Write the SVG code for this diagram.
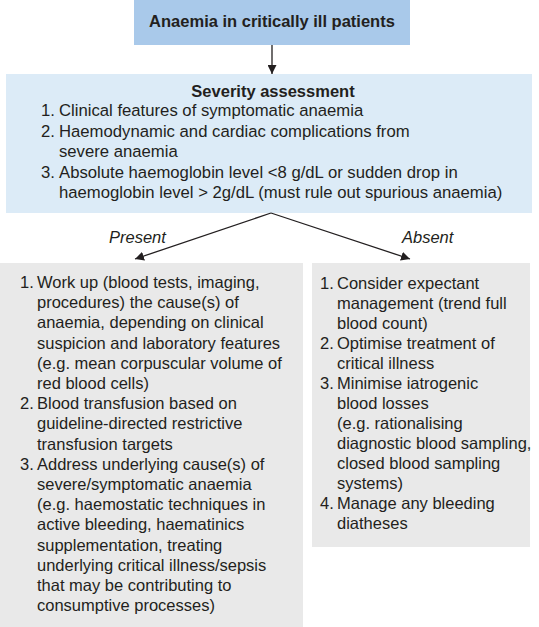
<svg xmlns="http://www.w3.org/2000/svg" width="539" height="627" viewBox="0 0 539 627">
<defs>
<style>
text{font-family:"Liberation Sans",Arial,sans-serif;fill:#231f20;font-size:16.5px}
.s{font-size:16.7px}
.b{font-weight:bold}
.i{font-style:italic}
.c{stroke:#231f20;stroke-width:1.3;fill:none}
</style>
<marker id="ah" viewBox="0 0 10 10" refX="10" refY="5" markerWidth="9" markerHeight="9" markerUnits="userSpaceOnUse" orient="auto"><path d="M0,0L10,5L0,10z" fill="#231f20"/></marker>
</defs>
<rect width="539" height="627" fill="#fff"/>
<g id="n1">
<rect x="134" y="0" width="276" height="45" fill="#a9c9ea"/>
<text class="b" x="272" y="27" text-anchor="middle">Anaemia in critically ill patients</text>
</g>
<g id="n2">
<rect x="6" y="74" width="526" height="139" fill="#dcebf7"/>
<text class="b" x="273" y="97" text-anchor="middle">Severity assessment</text>
<g class="s">
<text class="s" x="41" y="116">1.</text><text class="s" x="59" y="116">Clinical features of symptomatic anaemia</text>
<text class="s" x="41" y="136.5">2.</text><text class="s" x="59" y="136.5">Haemodynamic and cardiac complications from</text>
<text class="s" x="59" y="157">severe anaemia</text>
<text class="s" x="41" y="177.5">3.</text><text class="s" x="59" y="177.5">Absolute haemoglobin level &lt;8 g/dL or sudden drop in</text>
<text class="s" x="59" y="198">haemoglobin level &gt; 2g/dL (must rule out spurious anaemia)</text>
</g>
</g>
<g id="n3">
<rect x="0" y="263" width="303" height="364" fill="#e9e9e9"/>
<text x="20" y="288">1.</text><text x="37" y="288">Work up (blood tests, imaging,</text>
<text x="37" y="308.2">procedures) the cause(s) of</text>
<text x="37" y="328.4">anaemia, depending on clinical</text>
<text x="37" y="348.6">suspicion and laboratory features</text>
<text x="37" y="368.8">(e.g. mean corpuscular volume of</text>
<text x="37" y="389">red blood cells)</text>
<text x="20" y="409.2">2.</text><text x="37" y="409.2">Blood transfusion based on</text>
<text x="37" y="429.4">guideline-directed restrictive</text>
<text x="37" y="449.6">transfusion targets</text>
<text x="20" y="469.8">3.</text><text x="37" y="469.8">Address underlying cause(s) of</text>
<text x="37" y="490">severe/symptomatic anaemia</text>
<text x="37" y="510.2">(e.g. haemostatic techniques in</text>
<text x="37" y="530.4">active bleeding, haematinics</text>
<text x="37" y="550.6">supplementation, treating</text>
<text x="37" y="570.8">underlying critical illness/sepsis</text>
<text x="37" y="591">that may be contributing to</text>
<text x="37" y="611.2">consumptive processes)</text>
</g>
<g id="n4">
<rect x="312" y="263" width="218" height="284" fill="#e9e9e9"/>
<text x="320" y="289">1.</text><text x="337" y="289">Consider expectant</text>
<text x="337" y="309">management (trend full</text>
<text x="337" y="329">blood count)</text>
<text x="320" y="349">2.</text><text x="337" y="349">Optimise treatment of</text>
<text x="337" y="369">critical illness</text>
<text x="320" y="389">3.</text><text x="337" y="389">Minimise iatrogenic</text>
<text x="337" y="409">blood losses</text>
<text x="337" y="429">(e.g. rationalising</text>
<text x="337" y="449">diagnostic blood sampling,</text>
<text x="337" y="469">closed blood sampling</text>
<text x="337" y="489">systems)</text>
<text x="320" y="509">4.</text><text x="337" y="509">Manage any bleeding</text>
<text x="337" y="529">diatheses</text>
</g>
<g id="connectors">
<line class="c" x1="272" y1="45" x2="272" y2="74" marker-end="url(#ah)"/>
<line class="c" x1="271" y1="213" x2="135" y2="259" marker-end="url(#ah)"/>
<line class="c" x1="271" y1="213" x2="410" y2="259" marker-end="url(#ah)"/>
<text class="i" x="109" y="243">Present</text>
<text class="i" x="402" y="243">Absent</text>
</g>
</svg>
